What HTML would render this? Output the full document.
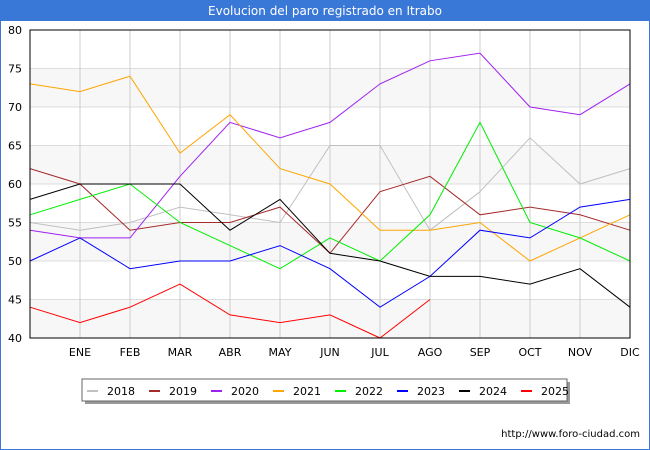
<!DOCTYPE html>
<html><head><meta charset="utf-8"><style>
body{margin:0;background:#fff;font-family:"Liberation Sans","DejaVu Sans",sans-serif;}
#wrap{position:relative;width:650px;height:450px;overflow:hidden;}
</style></head><body>
<div id="wrap">
<svg id="chart" width="650" height="450" xmlns="http://www.w3.org/2000/svg" style="font-family:'DejaVu Sans','Liberation Sans',sans-serif;">
<rect x="0" y="0" width="650" height="450" fill="#fff" stroke="#3a78d8" stroke-width="2"/>
<rect x="0" y="0" width="650" height="21" fill="#3a78d8"/>
<text x="325" y="15" text-anchor="middle" fill="#fff" font-size="12">Evolucion del paro registrado en Itrabo</text>
<g id="bands"></g><g id="grid"></g><g id="series"></g><g id="axes"></g>
<rect x="30" y="30" width="600" height="308" fill="none" stroke="#000" stroke-width="1"/>
<rect x="85" y="382" width="485" height="22" fill="#999"/>
<rect x="82" y="379" width="485" height="22" fill="#fff" stroke="#666"/>
<g id="legend"></g>
<text x="640" y="437" text-anchor="end" font-size="10" fill="#000">http://www.foro-ciudad.com</text>
</svg>
</div>
<script>
const months = ["","ENE","FEB","MAR","ABR","MAY","JUN","JUL","AGO","SEP","OCT","NOV","DIC"];
const yTicks = [40,45,50,55,60,65,70,75,80];
const years = ["2018","2019","2020","2021","2022","2023","2024","2025"];
const colors = ["#c0c0c0","#a52a2a","#a020f0","#ffa500","#00ee00","#0000ff","#000000","#ff0000"];
const s2018 = [55,54,55,57,56,55,65,65,54,59,66,60,62];
const s2019 = [62,60,54,55,55,57,51,59,61,56,57,56,54];
const s2020 = [54,53,53,61,68,66,68,73,76,77,70,69,73];
const s2021 = [73,72,74,64,69,62,60,54,54,55,50,53,56];
const s2022 = [56,58,60,55,52,49,53,50,56,68,55,53,50];
const s2023 = [50,53,49,50,50,52,49,44,48,54,53,57,58];
const s2024 = [58,60,60,60,54,58,51,50,48,48,47,49,44];
const s2025 = [44,42,44,47,43,42,43,40,45];
const allSeries = [s2018,s2019,s2020,s2021,s2022,s2023,s2024,s2025];
const NS="http://www.w3.org/2000/svg";
const X0=30,X1=630,Y0=338,Y1=30,YMIN=40,YMAX=80;
function xS(i){return X0+i*(X1-X0)/(months.length-1);}
function yS(v){return Y0-(v-YMIN)*(Y0-Y1)/(YMAX-YMIN);}
function mk(tag,attrs,parent){const e=document.createElementNS(NS,tag);for(const k in attrs)e.setAttribute(k,attrs[k]);parent.appendChild(e);return e;}
const bands=document.getElementById('bands'),grid=document.getElementById('grid'),ser=document.getElementById('series'),axes=document.getElementById('axes'),leg=document.getElementById('legend');
for(let i=0;i<yTicks.length-1;i+=2){
 const r=mk('rect',{x:X0,y:yS(yTicks[i+1]),width:X1-X0,height:yS(yTicks[i])-yS(yTicks[i+1]),fill:'#f7f7f7'},bands);
 
 
}
yTicks.forEach(v=>{
 const l=mk('line',{x1:X0,x2:X1,y1:yS(v),y2:yS(v),stroke:'#ddd','stroke-width':1},grid);
 
 
 const t=mk('text',{x:X0-8,y:yS(v)+4,'text-anchor':'end','font-size':11,fill:'#000'},axes);
 t.textContent=v;
 
 
});
months.forEach((m,i)=>{
 const l=mk('line',{x1:xS(i),x2:xS(i),y1:Y1,y2:Y0,stroke:'#ccc','stroke-width':1},grid);
 
 
 if(m){const t=mk('text',{x:xS(i),y:Y0+18,'text-anchor':'middle','font-size':11,fill:'#000'},axes);
 t.textContent=m;
 
 }
});
allSeries.forEach((s,k)=>{
 const p=mk('polyline',{points:s.map((v,i)=>xS(i)+','+yS(v)).join(' '),fill:'none',stroke:colors[k],'stroke-width':1},ser);
 
 
 const lx=87+k*62;
 const sw=mk('line',{x1:lx,x2:lx+11,y1:391,y2:391,stroke:colors[k],'stroke-width':2},leg);
 
 
 const t=mk('text',{x:lx+20,y:395,'font-size':11,fill:'#000'},leg);
 t.textContent=years[k];
 
 
});
</script>
</body></html>
